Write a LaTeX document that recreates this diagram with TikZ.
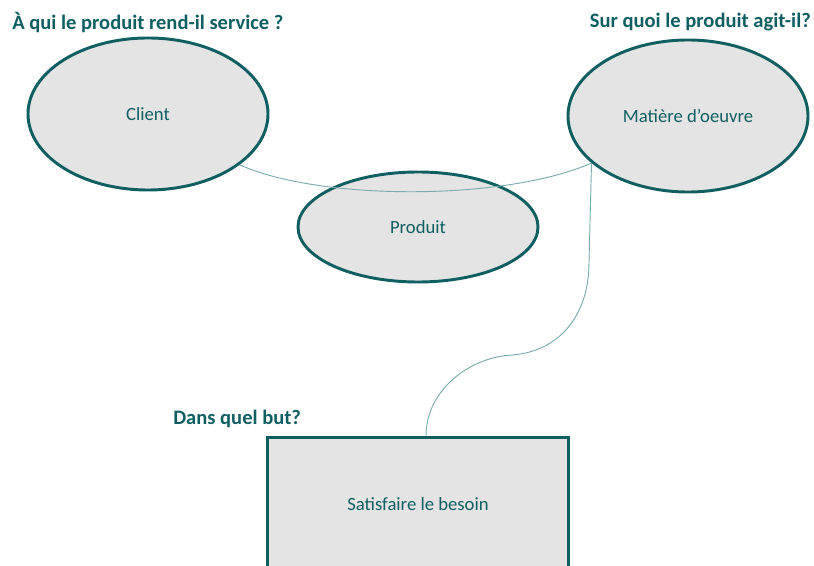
\documentclass[tikz,border=0pt]{standalone}
\usepackage{fontspec}
\setmainfont{Carlito}
\usetikzlibrary{shapes.geometric,calc}
\definecolor{teal1}{RGB}{14,94,98}
\definecolor{fillgray}{RGB}{228,228,228}
\definecolor{wire}{RGB}{122,172,174}
\tikzset{
  blob/.style={ellipse,draw=teal1,fill=fillgray,line width=2.2pt,inner sep=0pt,
    text=teal1,font=\fontsize{14}{16}\selectfont},
  boxnode/.style={rectangle,draw=teal1,fill=fillgray,line width=2.2pt,inner sep=0pt,
    text=teal1,font=\fontsize{14}{16}\selectfont},
  question/.style={text=teal1,font=\bfseries\fontsize{15.4}{18}\selectfont,inner sep=0pt},
  wirestyle/.style={draw=wire,line width=0.7pt}
}
\begin{document}
\begin{tikzpicture}[x=0.75pt,y=-0.75pt]
  \useasboundingbox (0,0) rectangle (814,566);
  \clip (0,0) rectangle (814,566);

  % questions
  \node[question,anchor=west] (q1) at (12,22) {À qui le produit rend-il service ?};
  \node[question,anchor=east] (q2) at (811,22) {Sur quoi le produit agit-il?};
  \node[question,anchor=west] (q3) at (173,419) {Dans quel but?};

  % main elements
  \node[blob,minimum width=180pt,minimum height=114pt] (client) at (148,114) {Client};
  \node[blob,minimum width=180pt,minimum height=114pt] (matiere) at (688,116) {Matière d’oeuvre};
  \node[blob,minimum width=180pt,minimum height=82.5pt] (produit) at (418,227) {Produit};
  \node[boxnode,minimum width=225.75pt,minimum height=100pt] (besoin) at (418,504) {Satisfaire le besoin};

  % links
  \draw[wirestyle] (client.-29.5) .. controls (320,201) and (505,201) .. (matiere.206);
  \coordinate (bend) at (589,262);
  \coordinate (mid) at (512,355);
  \coordinate (foot) at ($(besoin.north)+(8,0)$);
  \draw[wirestyle] (matiere.206) -- (bend)
    .. controls (589,320) and (555,352) .. (mid)
    .. controls (470,357) and (426,390) .. (foot);
\end{tikzpicture}
\end{document}
